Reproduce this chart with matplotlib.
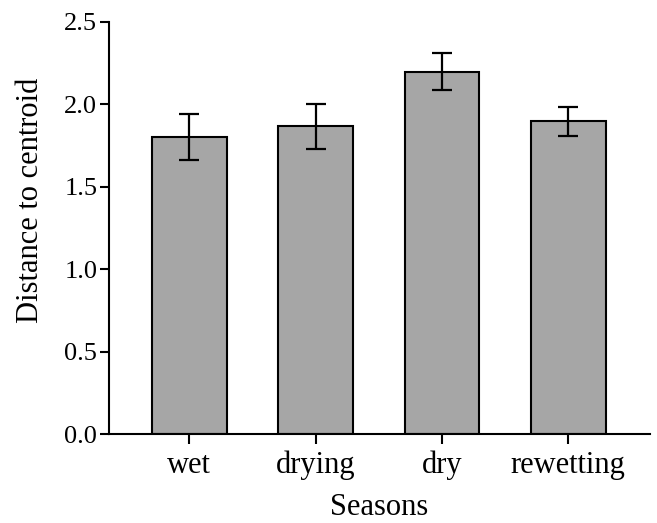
import matplotlib.pyplot as plt

seasons = ['wet', 'drying', 'dry', 'rewetting']
distance = [1.804, 1.868, 2.198, 1.897]
sem = [0.14, 0.136, 0.112, 0.086]

plt.rcParams['font.family'] = ['Liberation Serif', 'DejaVu Serif']

fig = plt.figure(figsize=(6.57, 5.23), dpi=100)
ax = fig.add_axes([0.166, 0.170, 0.823, 0.788])

x = range(len(seasons))
ax.bar(x, distance, width=0.59, color='#a6a6a6', edgecolor='black', linewidth=1.5,
       yerr=sem, capsize=7.5, error_kw={'elinewidth': 1.6, 'capthick': 1.6, 'ecolor': 'black'})

ax.set_xlim(-0.635, 3.645)
ax.set_ylim(0, 2.5)
ax.set_yticks([0.0, 0.5, 1.0, 1.5, 2.0, 2.5])
ax.set_yticklabels(['0.0', '0.5', '1.0', '1.5', '2.0', '2.5'])
ax.set_xticks(list(x))
ax.set_xticklabels(seasons)

ax.spines['top'].set_visible(False)
ax.spines['right'].set_visible(False)
ax.spines['left'].set_linewidth(1.5)
ax.spines['bottom'].set_linewidth(1.5)
ax.tick_params(axis='both', width=1.5, direction='out')
ax.tick_params(axis='y', labelsize=19, length=6.5, pad=2)
ax.tick_params(axis='x', labelsize=22, length=7, pad=5)

ax.set_xlabel('Seasons', fontsize=22, labelpad=9)
ax.set_ylabel('Distance to centroid', fontsize=22)
ax.yaxis.set_label_coords(-0.118, 0.567)

fig.savefig('out.png', dpi=100)
